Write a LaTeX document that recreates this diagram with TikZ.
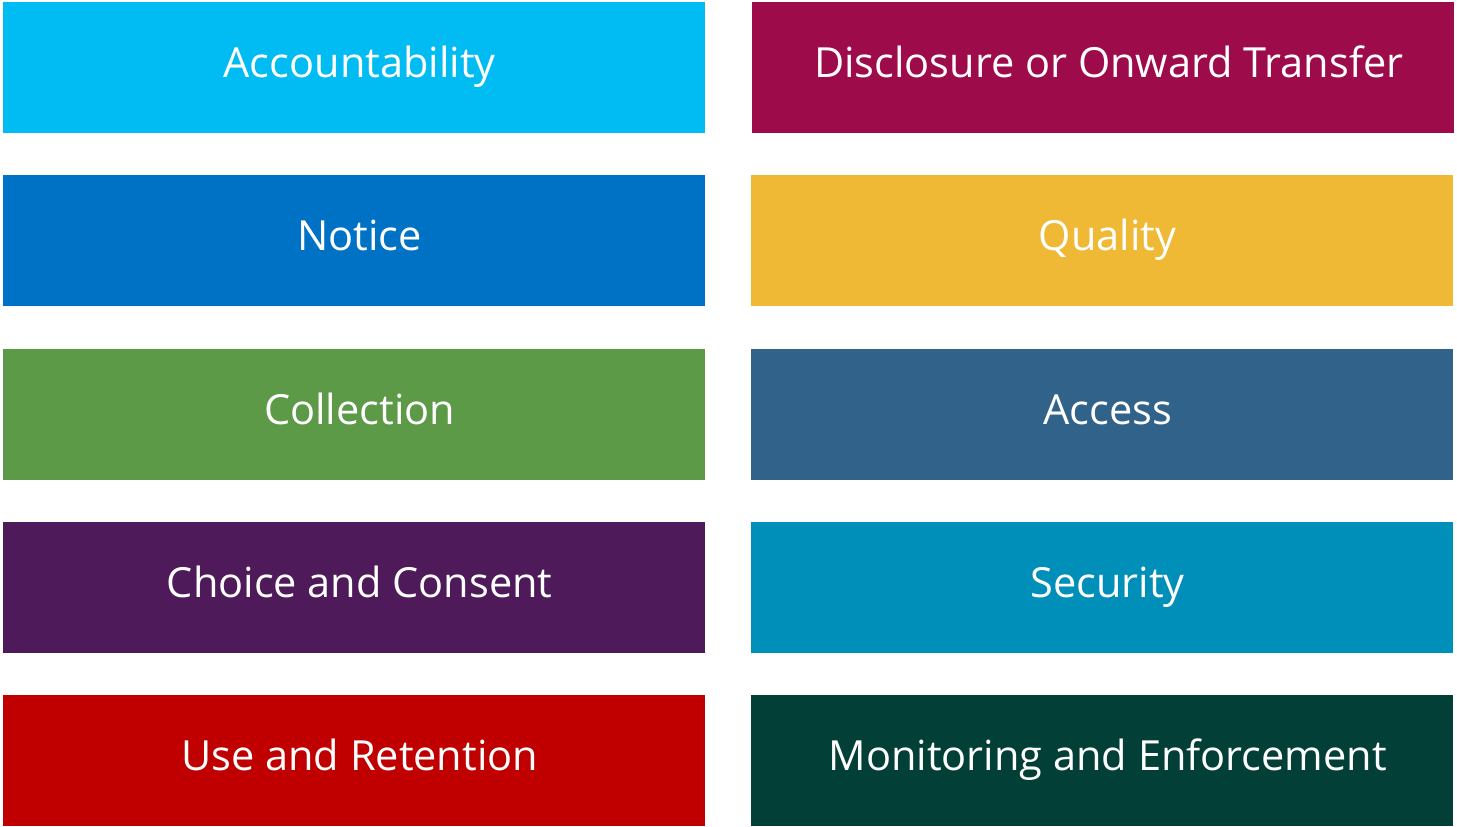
\documentclass[tikz,border=0pt]{standalone}
\usepackage{fontspec}
\setmainfont{Open Sans}
\definecolor{cAcc}{HTML}{00BCF2}
\definecolor{cNot}{HTML}{0072C6}
\definecolor{cCol}{HTML}{5C9A47}
\definecolor{cCho}{HTML}{4E1A5A}
\definecolor{cUse}{HTML}{C00000}
\definecolor{cDis}{HTML}{9E0B4A}
\definecolor{cQua}{HTML}{F0B935}
\definecolor{cAcs}{HTML}{316289}
\definecolor{cSec}{HTML}{008FB9}
\definecolor{cMon}{HTML}{023F36}
\begin{document}
\begin{tikzpicture}[x=1pt,y=-1pt,
  tile/.style={fill=#1,draw=none,minimum width=702pt,minimum height=130.5pt,
    inner sep=0pt,anchor=north west},
  tiletext/.style={text=white,font=\fontsize{41.5}{44}\selectfont,anchor=base}]
\useasboundingbox (0,0) rectangle (1457,827);
% rows: left column starts at x=3, right column at x=751
\foreach \name/\lbl/\col/\x/\y in {
  acc/Accountability/cAcc/3/2,
  not/Notice/cNot/3/175,
  col/Collection/cCol/3/349,
  cho/Choice and Consent/cCho/3/522,
  use/Use and Retention/cUse/3/695,
  dis/Disclosure or Onward Transfer/cDis/752/2,
  qua/Quality/cQua/751/175,
  acs/Access/cAcs/751/349,
  sec/Security/cSec/751/522,
  mon/Monitoring and Enforcement/cMon/751/695}{
  \node[tile=\col] (\name) at (\x,\y) {};
  \node[tiletext] (\name-t) at ([xshift=5.5pt,yshift=-75.5pt]\name.north) {\lbl};
}
\end{tikzpicture}
\end{document}
